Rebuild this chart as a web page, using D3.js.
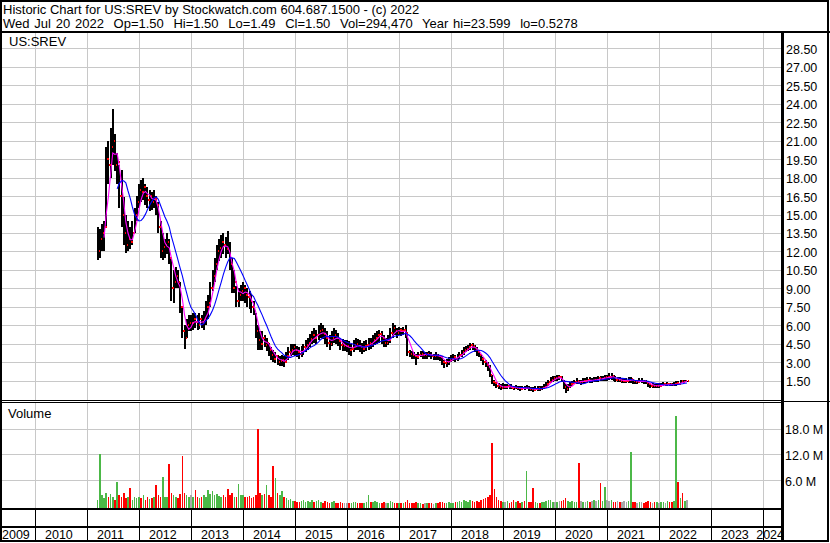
<!DOCTYPE html>
<html><head><meta charset="utf-8">
<script src="https://cdn.jsdelivr.net/npm/d3@7"></script>
<style>
html,body{margin:0;padding:0;background:#fff;}
svg{display:block;font-family:"Liberation Sans",Arial,sans-serif;}
</style></head><body>
<svg id="chart" width="830" height="543"></svg>
<script>
const titleLine1 = "Historic Chart for US:SREV by Stockwatch.com 604.687.1500 - (c) 2022";
const titleLine2 = "Wed Jul 20 2022  Op=1.50  Hi=1.50  Lo=1.49  Cl=1.50  Vol=294,470  Year hi=23.599  lo=0.5278";
const symbolLabel = "US:SREV";
const volumeLabel = "Volume";

// semi-monthly samples (1st and 16th of each month) from 16 Mar 2011 to 16 Jul 2022
const firstSample = { year: 2011, month: 2, half: 1 };

const priceHigh = [
  14.0,13.8,14.2,14.5,20.5,21.0,22.0,23.6,21.5,20.0,19.0,18.6,16.4,15.0,14.5,14.0,14.5,15.5,16.5,
  17.5,17.8,18.0,17.5,17.2,17.0,16.8,17.0,16.5,16.0,14.5,13.5,13.0,13.5,13.0,11.5,10.5,10.7,10.5,9.5,7.5,6.0,6.5,6.8,
  6.8,7.0,7.0,6.8,7.0,6.8,7.2,8.0,8.5,9.5,10.5,11.5,12.5,13.0,13.3,13.5,13.2,13.7,12.8,11.5,10.5,9.2,9.0,9.3,
  9.5,9.3,9.0,8.8,8.5,8.0,7.0,6.0,5.5,5.5,5.2,5.0,4.6,4.2,4.0,3.8,3.6,3.5,3.6,3.5,3.8,4.2,4.5,4.5,
  4.5,4.3,4.2,4.3,4.5,4.8,5.0,5.3,5.5,5.8,5.6,6.0,6.2,6.0,5.8,5.5,5.2,5.5,5.8,5.6,5.4,5.0,4.9,4.8,
  4.8,4.7,4.5,4.8,5.0,4.9,4.8,4.6,4.7,4.8,5.0,5.0,5.2,5.4,5.5,5.6,5.5,5.2,5.0,5.2,5.8,6.2,6.0,5.8,
  5.9,5.8,5.9,6.0,5.2,4.0,3.9,3.8,3.7,3.8,3.9,3.9,3.8,3.8,3.9,3.8,3.7,3.8,3.7,3.6,3.5,3.2,3.3,3.4,
  3.6,3.7,3.6,3.7,3.8,4.0,4.2,4.3,4.4,4.6,4.6,4.4,4.2,4.0,3.7,3.4,3.2,3.0,2.8,2.0,1.6,1.4,1.3,1.2,
  1.3,1.2,1.2,1.25,1.2,1.1,1.15,1.1,1.05,1.1,1.1,1.15,1.05,1.0,1.0,1.05,1.1,1.05,1.1,1.2,1.4,1.6,1.8,1.9,
  1.9,2.0,2.0,1.9,1.6,1.2,1.2,1.4,1.5,1.6,1.7,1.6,1.6,1.7,1.7,1.8,1.8,1.7,1.8,1.8,1.9,1.9,1.9,2.0,
  2.0,2.1,2.1,2.0,1.9,1.8,1.8,1.7,1.7,1.7,1.8,1.8,1.65,1.6,1.6,1.7,1.7,1.6,1.55,1.4,1.3,1.3,1.25,1.3,
  1.3,1.35,1.4,1.35,1.4,1.35,1.3,1.4,1.45,1.5,1.55,1.55,1.55,1.5
];
const priceLow = [
  11.3,11.5,12.0,12.0,14.0,17.5,18.0,19.0,18.5,17.5,15.5,14.0,12.5,11.9,12.0,12.2,12.5,13.5,14.5,
  15.5,16.0,16.2,15.8,15.5,15.3,15.4,15.5,15.0,13.5,11.5,11.3,11.5,11.8,11.0,8.0,7.8,9.0,9.0,7.0,5.0,4.1,5.0,5.5,
  5.5,5.6,5.8,5.6,5.7,5.8,5.6,6.0,6.5,7.5,8.8,9.5,10.5,11.2,11.5,11.8,11.5,11.8,10.5,8.6,8.6,7.5,7.5,8.0,
  8.0,7.8,7.5,7.3,7.0,6.8,5.0,4.0,4.0,4.0,4.2,3.9,3.5,3.2,3.0,2.9,2.8,2.7,2.7,2.6,2.9,3.2,3.5,3.6,
  3.5,3.4,3.3,3.4,3.6,3.8,4.0,4.2,4.5,4.6,4.5,4.8,5.0,4.9,4.5,4.2,4.0,4.3,4.6,4.5,4.3,4.0,3.9,3.9,
  3.8,3.6,3.5,3.8,4.0,4.0,3.8,3.7,3.8,3.9,4.0,4.1,4.2,4.4,4.5,4.6,4.5,4.2,4.2,4.4,4.6,5.0,5.2,5.0,
  5.2,5.1,5.2,5.0,3.5,3.4,3.3,3.3,2.8,3.3,3.4,3.3,3.3,3.3,3.4,3.3,3.2,3.2,3.2,3.1,2.8,2.5,2.6,2.8,
  3.0,3.1,3.0,3.1,3.3,3.4,3.6,3.8,3.9,4.0,4.0,3.8,3.5,3.4,3.1,2.8,2.6,2.3,1.8,1.2,1.1,0.9,0.8,0.75,
  0.8,0.8,0.85,0.85,0.8,0.75,0.8,0.75,0.7,0.75,0.75,0.8,0.7,0.65,0.6,0.65,0.7,0.7,0.75,0.8,0.9,1.1,1.3,1.4,
  1.5,1.5,1.6,1.4,0.8,0.5,0.7,0.9,1.1,1.2,1.2,1.2,1.15,1.2,1.3,1.3,1.3,1.3,1.4,1.4,1.4,1.5,1.5,1.5,
  1.5,1.6,1.6,1.5,1.4,1.4,1.4,1.3,1.3,1.3,1.35,1.35,1.25,1.2,1.2,1.3,1.3,1.25,1.2,1.0,0.9,0.95,0.9,0.95,
  0.95,1.0,1.05,1.05,1.1,1.05,1.05,1.05,1.1,1.2,1.3,1.35,1.4,1.49
];
const priceClose = [
  12.0,13.0,13.5,14.0,19.5,19.0,20.5,21.0,19.0,19.3,16.5,15.0,13.5,12.5,13.0,12.8,13.5,15.0,16.0,
  17.0,16.8,17.2,16.5,16.2,16.5,16.0,16.3,15.8,14.0,12.0,12.4,12.5,12.8,11.5,9.0,9.5,10.0,9.5,7.5,5.5,5.0,6.0,6.2,
  6.2,6.5,6.3,6.0,6.5,6.2,6.5,7.5,7.8,9.0,10.0,11.0,12.0,12.3,12.8,12.5,12.2,12.0,11.0,9.0,9.5,8.0,8.5,8.8,
  9.0,8.5,8.3,8.0,7.5,7.2,5.5,4.8,4.5,5.0,4.4,4.6,4.0,3.6,3.3,3.5,3.0,3.1,3.2,3.0,3.5,3.8,4.0,4.2,
  4.0,3.8,3.7,3.9,4.2,4.4,4.6,4.9,5.2,5.0,5.2,5.5,5.6,5.3,5.0,4.6,4.5,5.0,5.2,5.0,4.7,4.4,4.3,4.3,
  4.3,4.0,4.1,4.4,4.5,4.3,4.2,4.1,4.3,4.4,4.6,4.5,4.8,5.0,5.2,5.3,5.0,4.6,4.6,4.8,5.4,5.8,5.5,5.4,
  5.6,5.5,5.6,5.4,3.8,3.7,3.6,3.5,3.4,3.6,3.7,3.6,3.6,3.7,3.6,3.5,3.5,3.6,3.5,3.4,3.0,2.9,3.0,3.2,
  3.3,3.4,3.3,3.5,3.6,3.8,4.0,4.1,4.2,4.4,4.3,4.0,3.8,3.6,3.3,3.0,2.8,2.6,2.0,1.4,1.3,1.1,1.0,0.95,
  1.0,1.0,1.05,1.0,0.95,0.9,0.95,0.9,0.85,0.9,0.88,0.95,0.85,0.8,0.75,0.85,0.9,0.85,0.9,1.0,1.2,1.4,1.6,1.7,
  1.7,1.8,1.8,1.5,1.0,0.8,1.0,1.2,1.3,1.4,1.5,1.4,1.4,1.5,1.5,1.6,1.5,1.5,1.6,1.6,1.7,1.65,1.7,1.8,
  1.8,1.8,1.9,1.7,1.6,1.6,1.5,1.5,1.5,1.5,1.6,1.65,1.45,1.4,1.4,1.5,1.5,1.45,1.35,1.2,1.1,1.1,1.05,1.1,
  1.1,1.15,1.2,1.2,1.25,1.2,1.15,1.2,1.3,1.25,1.45,1.4,1.5,1.5
];
// volume in millions of shares
const volumeM = [
  1.5,12.0,2.5,1.8,3.0,2.2,2.8,2.0,1.5,5.5,2.5,2.0,3.0,1.8,2.2,4.1,1.5,2.0,1.8,
  2.0,1.8,2.5,1.5,2.0,1.6,1.8,2.2,4.8,2.5,2.0,6.8,2.2,2.0,9.7,3.0,2.5,2.0,1.8,2.8,11.5,3.0,2.5,2.2,
  2.5,2.0,3.8,2.2,1.8,2.0,2.5,2.2,3.8,2.8,3.6,2.5,2.8,2.4,2.2,2.5,2.0,4.0,2.5,3.0,2.2,2.0,5.0,2.5,
  2.5,2.2,2.0,2.4,1.8,2.0,2.5,17.9,3.0,2.5,2.8,4.8,2.5,2.2,9.2,6.4,3.0,2.5,3.4,2.0,1.8,1.5,1.6,1.2,
  1.2,1.0,0.9,1.1,1.3,1.0,1.2,0.9,1.4,1.0,1.2,1.5,1.0,0.8,1.1,0.9,0.8,1.0,1.2,0.8,0.7,0.9,0.8,0.6,
  0.8,0.7,0.6,0.9,1.0,0.7,0.8,0.6,0.7,0.9,2.6,1.0,0.9,1.1,1.0,0.8,0.7,0.9,0.6,0.8,1.2,1.0,0.8,0.7,
  0.8,0.7,0.6,0.9,1.5,0.8,0.7,0.6,0.9,0.7,0.6,0.5,0.7,0.6,0.8,0.6,0.5,0.7,0.6,0.9,1.0,0.8,0.7,0.9,
  0.7,0.8,1.0,0.9,1.2,1.0,1.4,1.2,1.0,1.3,1.1,0.9,1.2,1.0,1.4,1.6,1.8,2.2,2.5,14.7,4.0,2.0,1.5,1.2,
  1.0,0.9,1.2,0.8,1.0,1.5,0.9,1.1,0.8,1.0,1.2,8.2,1.0,0.9,4.2,1.0,0.8,0.7,0.9,1.0,1.2,1.5,1.3,1.0,
  1.0,0.9,1.1,1.2,1.5,1.8,1.2,1.0,1.1,0.9,1.0,10.1,1.2,1.0,0.9,1.1,1.0,1.2,1.4,1.1,1.3,5.3,1.2,4.3,
  1.5,1.2,1.3,1.0,0.9,1.1,1.0,0.9,1.2,1.0,1.1,12.6,1.0,0.9,0.8,1.0,0.9,0.8,1.0,1.2,0.9,0.8,1.0,0.9,
  0.8,0.9,1.0,0.8,1.2,0.9,1.0,1.1,20.9,5.5,1.8,3.0,1.2,1.5
];
const priceTicks = [1.5,3,4.5,6,7.5,9,10.5,12,13.5,15,16.5,18,19.5,21,22.5,24,25.5,27,28.5];
const volumeTicks = [6,12,18];
const yearLabels = [2009,2010,2011,2012,2013,2014,2015,2016,2017,2018,2019,2020,2021,2022,2023,2024];
const fastPeriod = 4, slowPeriod = 10;

// ---- layout ----
const axisX = 782;
const priceTop = 33, priceBottom = 400;
const volTop = 403, volBottom = 508;
const rowA = 509, rowB = 527, rowEnd = 541;

const dates = priceClose.map((_, i) => {
  const k = firstSample.half + i;
  return new Date(firstSample.year, firstSample.month + Math.floor(k / 2), (k % 2) ? 16 : 1);
});

const x = d3.scaleTime().domain([new Date(2010,0,1), new Date(2024,0,1)]).range([35, 763]);
const yP = d3.scaleLinear().domain([0, 28.5]).range([399.2, 48.3]);
const yV = d3.scaleLinear().domain([0, 18]).range([506, 428.5]);

const svg = d3.select("#chart");
const gridColor = "#c8c8c8";

// gridlines
const yearStarts = yearLabels.slice(1).map(y => new Date(y, 0, 1));
const grid = svg.append("g").attr("shape-rendering", "crispEdges").attr("stroke", gridColor).attr("stroke-width", 1);
grid.selectAll(".hp").data(priceTicks).join("line")
  .attr("x1", 1).attr("x2", axisX - 1)
  .attr("y1", d => Math.round(yP(d)) + 0.5).attr("y2", d => Math.round(yP(d)) + 0.5);
grid.selectAll(".hv").data(volumeTicks).join("line")
  .attr("x1", 1).attr("x2", axisX - 1)
  .attr("y1", d => Math.round(yV(d)) + 0.5).attr("y2", d => Math.round(yV(d)) + 0.5);
grid.selectAll(".vp").data(yearStarts).join("line")
  .attr("x1", d => Math.round(x(d)) + 0.5).attr("x2", d => Math.round(x(d)) + 0.5)
  .attr("y1", priceTop).attr("y2", priceBottom);
grid.selectAll(".vv").data(yearStarts).join("line")
  .attr("x1", d => Math.round(x(d)) + 0.5).attr("x2", d => Math.round(x(d)) + 0.5)
  .attr("y1", volTop).attr("y2", volBottom);

// volume bars
const volColor = i => {
  if (i === 0) return "#4cb848";
  const c = priceClose[i], p = priceClose[i - 1];
  return c > p ? "#4cb848" : (c < p ? "#ff0000" : "#a8a8a8");
};
svg.append("g").attr("shape-rendering", "crispEdges")
  .selectAll("rect").data(volumeM).join("rect")
  .attr("x", (d, i) => x(dates[i]) - 0.8)
  .attr("width", 1.6)
  .attr("y", d => yV(d))
  .attr("height", d => volBottom - yV(d))
  .attr("fill", (d, i) => volColor(i));

// price bars
const bars = svg.append("g").attr("shape-rendering", "crispEdges");
bars.selectAll(".hl").data(priceHigh).join("rect")
  .attr("x", (d, i) => x(dates[i]) - 1)
  .attr("width", 2)
  .attr("y", d => yP(d))
  .attr("height", (d, i) => Math.max(1, yP(priceLow[i]) - yP(d)))
  .attr("fill", "#000");
bars.selectAll(".cl").data(priceClose).join("rect")
  .attr("x", (d, i) => x(dates[i]) + 1)
  .attr("width", 1.5)
  .attr("y", d => yP(d) - 1)
  .attr("height", 2)
  .attr("fill", "#ff0000");

// moving averages
const sma = (arr, n) => arr.map((v, i) => i < n - 1 ? null : d3.mean(arr.slice(i - n + 1, i + 1)));
const fast = sma(priceClose, fastPeriod), slow = sma(priceClose, slowPeriod);
const line = d3.line().defined(d => d[1] != null).x(d => x(d[0])).y(d => yP(d[1]));
svg.append("path").datum(dates.map((d, i) => [d, fast[i]]))
  .attr("d", line).attr("fill", "none").attr("stroke", "#ff00ff").attr("stroke-width", 1.1);
svg.append("path").datum(dates.map((d, i) => [d, slow[i]]))
  .attr("d", line).attr("fill", "none").attr("stroke", "#0000ff").attr("stroke-width", 1.1);

// frame
const frame = svg.append("g").attr("shape-rendering", "crispEdges").attr("stroke", "#000");
frame.append("line").attr("x1", 0).attr("x2", 830).attr("y1", 32).attr("y2", 32).attr("stroke-width", 2);
frame.append("line").attr("x1", axisX).attr("x2", axisX).attr("y1", 31).attr("y2", rowEnd + 1).attr("stroke-width", 3);
frame.append("line").attr("x1", 0).attr("x2", axisX).attr("y1", 400.5).attr("y2", 400.5).attr("stroke-width", 1);
frame.append("line").attr("x1", 0).attr("x2", axisX).attr("y1", 402.5).attr("y2", 402.5).attr("stroke-width", 1);
frame.append("line").attr("x1", axisX).attr("x2", 830).attr("y1", 401.5).attr("y2", 401.5).attr("stroke-width", 1);
frame.append("line").attr("x1", 0).attr("x2", axisX).attr("y1", rowA).attr("y2", rowA).attr("stroke-width", 2);
frame.append("line").attr("x1", 0).attr("x2", axisX).attr("y1", rowB).attr("y2", rowB).attr("stroke-width", 2);
frame.selectAll(".ys").data(yearStarts).join("line")
  .attr("x1", d => Math.round(x(d)) + 0.5).attr("x2", d => Math.round(x(d)) + 0.5)
  .attr("y1", rowA).attr("y2", rowEnd).attr("stroke-width", 1);
frame.append("rect").attr("x", 1).attr("y", 1).attr("width", 827).attr("height", 540)
  .attr("fill", "none").attr("stroke-width", 2);

// texts
svg.append("text").attr("x", 3).attr("y", 14).attr("font-size", 13).attr("xml:space", "preserve")
  .style("white-space", "pre").text(titleLine1);
svg.append("text").attr("x", 3).attr("y", 28).attr("font-size", 13).attr("xml:space", "preserve")
  .attr("word-spacing", 1.2)
  .style("white-space", "pre").text(titleLine2);
svg.append("text").attr("x", 9).attr("y", 46).attr("font-size", 13).text(symbolLabel);
svg.append("text").attr("x", 8).attr("y", 418).attr("font-size", 13).text(volumeLabel);

// right axes
const pAxis = d3.axisRight(yP).tickValues(priceTicks).tickFormat(d3.format(".2f")).tickSize(0).tickPadding(0);
svg.append("g").attr("transform", `translate(${axisX + 4},0)`).call(pAxis)
  .call(g => g.select(".domain").remove())
  .call(g => g.selectAll("text").attr("font-size", 12.5).attr("font-family", "Liberation Sans, Arial, sans-serif").attr("fill", "#000").attr("dy", "0.4em"));
const vAxis = d3.axisRight(yV).tickValues(volumeTicks).tickFormat(d => d.toFixed(1) + " M").tickSize(0).tickPadding(0);
svg.append("g").attr("transform", `translate(${axisX + 3},0)`).call(vAxis)
  .call(g => g.select(".domain").remove())
  .call(g => g.selectAll("text").attr("font-size", 12.5).attr("font-family", "Liberation Sans, Arial, sans-serif").attr("fill", "#000").attr("dy", "0.4em"));

// year labels
const yl = svg.append("g").attr("font-size", 12.5);
yearLabels.forEach(yr => {
  const t = yl.append("text").attr("y", 539).text(yr);
  const w = t.node().getComputedTextLength();
  let px = x(new Date(yr, 0, 1)) + 10;
  px = Math.max(2, Math.min(axisX + 2 - w, px));
  t.attr("x", px);
});
</script>
</body></html>
